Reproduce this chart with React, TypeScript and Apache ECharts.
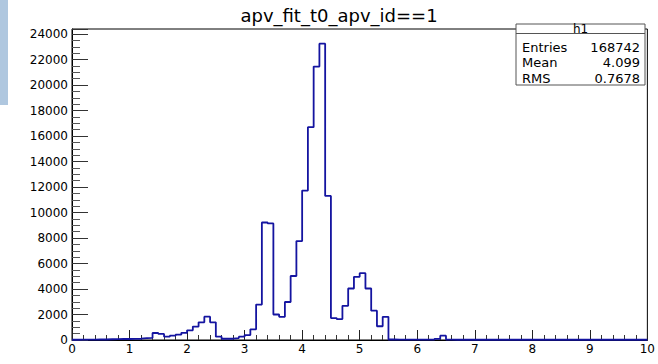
import React, { useEffect, useRef } from 'react';
import * as echarts from 'echarts';

const chartTitle = 'apv_fit_t0_apv_id==1';
const xMin = 0;
const xMax = 10;
const binWidth = 0.1;
// histogram counts, 100 bins of width 0.1 from 0 to 10
const counts = [
  20, 25, 30, 30, 40, 40, 60, 70, 80, 80,
  90, 100, 150, 160, 550, 480, 260, 340, 420, 560,
  760, 1050, 1390, 1830, 1390, 260, 100, 100, 150, 260,
  390, 840, 2780, 9220, 9150, 2000, 1820, 2980, 5020, 7760,
  11720, 16700, 21450, 23250, 11300, 1720, 1640, 2680, 4040, 4960,
  5240, 4040, 2300, 1080, 1820, 40, 30, 30, 30, 30,
  30, 30, 30, 90, 340, 30, 20, 20, 20, 20,
  20, 20, 20, 20, 20, 20, 20, 20, 20, 20,
  20, 20, 20, 20, 20, 20, 20, 20, 20, 20,
  20, 20, 20, 20, 20, 20, 20, 20, 20, 20,
];
const xTickStep = 1;
const yTickStep = 2000;
const yMax = 24400;
const statName = 'h1';
const statLabels = ['Entries', 'Mean', 'RMS'];
const statValues = ['168742', '4.099', '0.7678'];

const FONT = 'DejaVu Sans';

export default function App() {
  const ref = useRef<HTMLDivElement>(null);
  useEffect(() => {
    document.body.style.margin = '0';
    const chart = echarts.init(ref.current!, null, { renderer: 'svg' });
    const data: number[][] = counts.map((v, i) => [+(xMin + i * binWidth).toFixed(1), v]);
    data.push([xMax, counts[counts.length - 1]]);

    const boxX = 516, boxY = 24, boxW = 129, boxH = 61, headH = 9.5, rowH = 15.3;
    const graphics: any[] = [
      { type: 'rect', shape: { x: 0, y: 0, width: 8, height: 105 }, style: { fill: '#afc7df' }, silent: true },
      {
        type: 'rect', shape: { x: boxX, y: boxY, width: boxW, height: boxH },
        style: { fill: '#fff', stroke: '#555', lineWidth: 1 }, z: 100,
      },
      {
        type: 'line', shape: { x1: boxX, y1: boxY + headH, x2: boxX + boxW, y2: boxY + headH },
        style: { stroke: '#555', lineWidth: 1 }, z: 101,
      },
      {
        type: 'text', x: boxX + boxW / 2, y: boxY + headH / 2 + 0.5, z: 102,
        style: { text: statName, fill: '#000', fontSize: 12, fontFamily: FONT, align: 'center', verticalAlign: 'middle' },
      },
    ];
    statLabels.forEach((lab, i) => {
      const cy = boxY + headH + 14 + i * rowH;
      graphics.push({
        type: 'text', x: boxX + 6, y: cy, z: 102,
        style: { text: lab, fill: '#000', fontSize: 13, fontFamily: FONT, align: 'left', verticalAlign: 'middle' },
      });
      graphics.push({
        type: 'text', x: boxX + boxW - 5, y: cy, z: 102,
        style: { text: statValues[i], fill: '#000', fontSize: 13, fontFamily: FONT, align: 'right', verticalAlign: 'middle' },
      });
    });

    const option: any = {
      animation: false,
      backgroundColor: '#fff',
      title: {
        text: chartTitle,
        left: 334,
        textAlign: 'center',
        top: 1,
        textStyle: { fontFamily: FONT, fontSize: 18, fontWeight: 'normal', color: '#000' },
      },
      grid: {
        left: 72, right: 7.5, top: 29, bottom: 24,
        show: true, borderColor: '#000', borderWidth: 1, backgroundColor: 'transparent',
      },
      xAxis: {
        type: 'value', min: xMin, max: xMax, interval: xTickStep,
        axisLine: { show: true, lineStyle: { color: '#000', width: 1 } },
        axisTick: { show: true, inside: true, length: 10, lineStyle: { color: '#222' } },
        minorTick: { show: true, splitNumber: 5, length: 5, lineStyle: { color: '#333' } },
        splitLine: { show: false },
        minorSplitLine: { show: false },
        axisLabel: { color: '#000', fontFamily: FONT, fontSize: 12, margin: 3, formatter: (v: number) => String(v) },
      },
      yAxis: {
        type: 'value', min: 0, max: yMax, interval: yTickStep,
        axisLine: { show: true, lineStyle: { color: '#000', width: 1 } },
        axisTick: { show: true, inside: true, length: 16, lineStyle: { color: '#333' } },
        minorTick: { show: true, splitNumber: 4, length: 8, lineStyle: { color: '#555' } },
        splitLine: { show: false },
        minorSplitLine: { show: false },
        axisLabel: {
          color: '#000', fontFamily: FONT, fontSize: 12, margin: 4, showMaxLabel: false,
          formatter: (v: number) => (v % yTickStep === 0 ? String(v) : ''),
        },
      },
      series: [
        {
          type: 'line',
          step: 'end',
          data,
          symbol: 'none',
          lineStyle: { color: '#1414a0', width: 1.8 },
          clip: true,
        },
      ],
      graphic: graphics,
    };
    chart.setOption(option);
    return () => chart.dispose();
  }, []);
  return <div ref={ref} style={{ width: 658, height: 364, background: '#fff' }} />;
}
